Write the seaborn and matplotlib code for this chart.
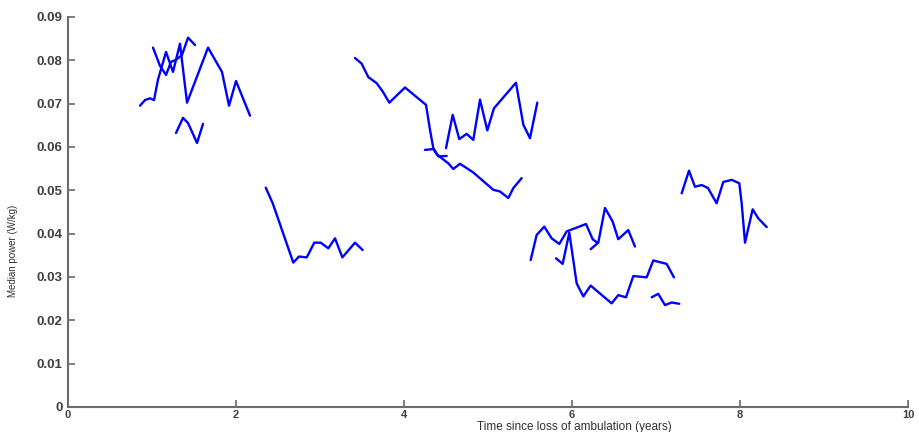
import numpy as np
import pandas as pd
import seaborn as sns
from matplotlib import pyplot as plt

sns.set_style("white")
sns.set_style("ticks")
plt.rcParams['font.family'] = ['Liberation Sans', 'DejaVu Sans']

# ---------------- digitised segments (years, W/kg)
x1 = [0.857, 0.917, 0.976, 1.024, 1.071, 1.167, 1.25, 1.333, 1.417, 1.667, 1.833, 1.917, 2.0, 2.167]
y1 = [0.0695, 0.0708, 0.0712, 0.0708, 0.0755, 0.0819, 0.0773, 0.0838, 0.0702, 0.0829, 0.0773, 0.0695, 0.0752, 0.0672]
x2 = [1.012, 1.095, 1.167, 1.226, 1.286, 1.357, 1.429, 1.512]
y2 = [0.0829, 0.0787, 0.0766, 0.0796, 0.0801, 0.0812, 0.0852, 0.0835]
x3 = [1.286, 1.369, 1.429, 1.536, 1.607]
y3 = [0.0632, 0.0667, 0.0655, 0.0609, 0.0653]
x4 = [2.354, 2.437, 2.682, 2.75, 2.842, 2.932, 3.008, 3.099, 3.179, 3.266, 3.417, 3.508]
y4 = [0.0506, 0.0470, 0.0333, 0.0347, 0.0345, 0.0379, 0.0379, 0.0366, 0.0389, 0.0345, 0.0379, 0.0362]
x5 = [3.417, 3.496, 3.575, 3.675, 3.746, 3.825, 4.012, 4.262, 4.310, 4.349, 4.397, 4.461,
      4.528, 4.587, 4.667, 4.825, 5.063, 5.143, 5.242, 5.302, 5.401]
y5 = [0.0805, 0.0792, 0.0761, 0.0747, 0.0728, 0.0702, 0.0737, 0.0697, 0.0639, 0.0597, 0.0582, 0.0572,
      0.0562, 0.0549, 0.0561, 0.0541, 0.0501, 0.0497, 0.0482, 0.0505, 0.0528]
x6 = [4.25, 4.349, 4.409, 4.508]
y6 = [0.0593, 0.0595, 0.0578, 0.0579]
x7 = [4.5, 4.580, 4.658, 4.746, 4.825, 4.905, 4.992, 5.071, 5.333, 5.421, 5.5, 5.587]
y7 = [0.0597, 0.0674, 0.0618, 0.0630, 0.0616, 0.0709, 0.0638, 0.0689, 0.0748, 0.0651, 0.0620, 0.0702]
x8 = [5.508, 5.580, 5.670, 5.758, 5.849, 5.937, 6.167, 6.246, 6.301]
y8 = [0.0339, 0.0397, 0.0416, 0.0389, 0.0376, 0.0405, 0.0422, 0.0387, 0.0379]
x9 = [6.222, 6.313, 6.393, 6.484, 6.551, 6.670, 6.750]
y9 = [0.0364, 0.0379, 0.0459, 0.0428, 0.0387, 0.0408, 0.0370]
x10 = [5.810, 5.889, 5.968, 6.056, 6.135, 6.222, 6.472, 6.551, 6.643, 6.730, 6.889, 6.968, 7.127, 7.214]
y10 = [0.0343, 0.0330, 0.0402, 0.0285, 0.0255, 0.0280, 0.0239, 0.0258, 0.0253, 0.0302, 0.0299, 0.0338, 0.0330, 0.0299]
x11 = [6.949, 7.027, 7.107, 7.187, 7.277]
y11 = [0.0253, 0.0261, 0.0235, 0.0241, 0.0238]
x12 = [7.306, 7.393, 7.464, 7.544, 7.619, 7.722, 7.801, 7.901, 7.992, 8.020, 8.060, 8.151, 8.218, 8.318]
y12 = [0.0493, 0.0545, 0.0508, 0.0512, 0.0505, 0.0470, 0.0519, 0.0524, 0.0516, 0.0470, 0.0379, 0.0456, 0.0435, 0.0415]

xticks = [0, 2, 4, 6, 8, 10]
yticks = [0, 0.01, 0.02, 0.03, 0.04, 0.05, 0.06, 0.07, 0.08, 0.09]
yticklabels = ["0", "0.01", "0.02", "0.03", "0.04", "0.05", "0.06", "0.07", "0.08", "0.09"]

segs = [(x1, y1), (x2, y2), (x3, y3), (x4, y4), (x5, y5), (x6, y6),
        (x7, y7), (x8, y8), (x9, y9), (x10, y10), (x11, y11), (x12, y12)]
df = pd.concat([pd.DataFrame({"t": sx, "p": sy, "seg": i}) for i, (sx, sy) in enumerate(segs)],
               ignore_index=True)

# ----------------
fh = plt.figure(figsize=(9.19, 4.32), dpi=100)
ah = fh.add_axes([0.074, 0.058, 0.914, 0.903])
sns.lineplot(data=df, x="t", y="p", units="seg", estimator=None, sort=False,
             color="#0000ff", lw=1.7, ax=ah)
ah.set_xlim(0, 10)
ah.set_ylim(0, 0.09)
ah.set_xticks(xticks)
ah.set_xticklabels([str(v) for v in xticks])
ah.set_yticks(yticks)
ah.set_yticklabels(yticklabels)
ah.spines["right"].set_visible(False)
ah.spines["top"].set_visible(False)
for s in ["left", "bottom"]:
    ah.spines[s].set_color("#6b6b6b")
    ah.spines[s].set_linewidth(1.5)
ah.tick_params(axis='both', direction='in', length=5, width=1.2, color="#6b6b6b",
               labelcolor="#404040", pad=2)
ah.tick_params(axis='x', labelsize=8)
ah.tick_params(axis='y', labelsize=9.5, pad=4)
for lab in ah.get_xticklabels() + ah.get_yticklabels():
    lab.set_fontweight("bold")
ah.set_xlabel("Time since loss of ambulation (years)", fontsize=8.5, color="#303030")
ah.set_ylabel("Median power (W/kg)", fontsize=7, color="#303030")
ah.xaxis.set_label_coords(0.603, -0.035)
ah.yaxis.set_label_coords(-0.06, 0.4)
fh.savefig("out.png", dpi=100)
